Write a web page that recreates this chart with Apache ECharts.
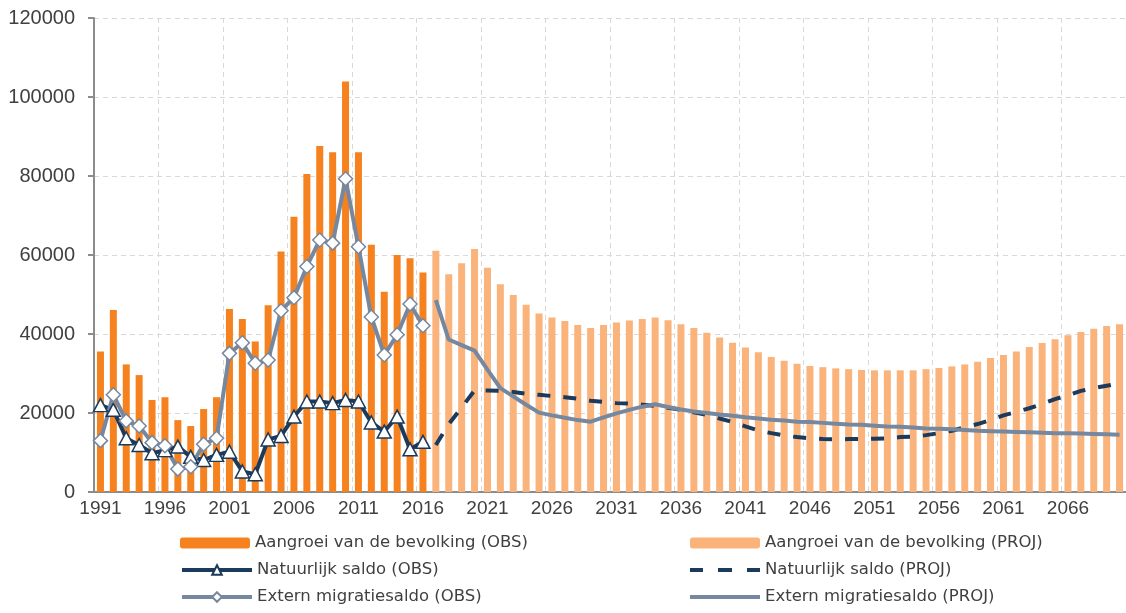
<!DOCTYPE html>
<html>
<head>
<meta charset="utf-8">
<script src="https://cdn.jsdelivr.net/npm/echarts@6/dist/echarts.min.js"></script>
<style>
html, body { margin: 0; padding: 0; background: #fff; }
#chart { width: 1126px; height: 613px; }
</style>
</head>
<body>
<div id="chart"></div>
<script>
var navy = '#1b3a5c';
var slate = '#76889f';
var orange = '#f5821f';
var peach = '#fab37a';
var axisGrey = '#8c8c8c';
var gridGrey = '#d9d9d9';
var textGrey = '#404040';

var names = [
	'Aangroei van de bevolking (OBS)',
	'Aangroei van de bevolking (PROJ)',
	'Natuurlijk saldo (OBS)',
	'Natuurlijk saldo (PROJ)',
	'Extern migratiesaldo (OBS)',
	'Extern migratiesaldo (PROJ)'
];

// 1991 - 2070
var years = [];
for (var y = 1991; y <= 2070; y++) years.push(String(y));

// observed 1991 - 2016
var growthObs = [35600, 46100, 32300, 29600, 23300, 24000, 18200, 16700, 21000, 24000,
	46300, 43800, 38100, 47300, 60900, 69700, 80500, 87600, 86000, 103900,
	86000, 62600, 50700, 60000, 59200, 55600];
var naturalObs = [22000, 20800, 13600, 11900, 9800, 10600, 11500, 8900, 8100, 9400,
	10200, 5200, 4500, 13300, 14200, 19100, 22900, 22900, 22500, 23300,
	22900, 17600, 15300, 19100, 10800, 12700];
var migrationObs = [13000, 24600, 18000, 16700, 12500, 11700, 5800, 6400, 12100, 13600,
	35100, 37800, 32600, 33400, 45900, 49200, 57100, 63800, 63000, 79300,
	62100, 44300, 34700, 39800, 47600, 42100];

// projected 2017 - 2070
var growthProj = [61100, 55100, 57900, 61500, 56800, 52600, 49900, 47400, 45200, 44200,
	43300, 42300, 41500, 42300, 42900, 43400, 43800, 44200, 43500, 42500,
	41500, 40300, 39100, 37800, 36600, 35400, 34200, 33200, 32500, 31900,
	31600, 31300, 31100, 30900, 30800, 30800, 30800, 30800, 31100, 31400,
	31800, 32300, 33000, 33900, 34700, 35600, 36700, 37700, 38700, 39700,
	40500, 41300, 42000, 42500];
var naturalProj = [11900, 17200, 21400, 25700, 25700, 25600, 25300, 24900, 24600, 24300,
	24000, 23600, 23100, 22800, 22500, 22400, 22100, 21800, 21300, 20800,
	20200, 19500, 18600, 17700, 16600, 15600, 14900, 14300, 13900, 13600,
	13400, 13300, 13400, 13400, 13500, 13600, 13900, 14000, 14400, 14900,
	15500, 16400, 17200, 18200, 19400, 20300, 21200, 22300, 23500, 24500,
	25600, 26300, 26900, 27500];
var migrationProj = [48600, 38600, 37200, 35800, 31000, 26300, 24200, 22100, 20100, 19400,
	18800, 18200, 17800, 18900, 19900, 20800, 21600, 22200, 21500, 20900,
	20400, 20000, 19600, 19300, 18900, 18600, 18300, 18100, 17800, 17700,
	17500, 17300, 17100, 17000, 16800, 16600, 16500, 16300, 16100, 16000,
	15900, 15700, 15500, 15400, 15300, 15200, 15100, 15000, 14900, 14900,
	14800, 14700, 14600, 14500];

function obs(arr) {
	return arr.concat(new Array(years.length - arr.length).fill(null));
}
function proj(arr) {
	return new Array(years.length - arr.length).fill(null).concat(arr);
}

// one legend per entry so the two columns line up like the original
function legendItem(name, left, top, extra) {
	var l = {
		left: left, top: top, padding: 0,
		itemWidth: 70, itemHeight: 11,
		selectedMode: false,
		lineStyle: { width: 4 },
		textStyle: { fontFamily: 'DejaVu Sans', fontSize: 16.5, color: textGrey, lineHeight: 18 },
		data: [name]
	};
	for (var k in extra) l[k] = extra[k];
	return l;
}

var dashIcon = 'path://M0,0h13v4h-13z M28,0h14v4h-14z M57,0h13v4h-13z';

var chart = echarts.init(document.getElementById('chart'));
chart.setOption({
	animation: false,
	grid: { left: 94, right: 0, top: 18, bottom: 121 },
	legend: [
		legendItem(names[0], 180, 534),
		legendItem(names[1], 690, 534),
		legendItem(names[2], 180, 561, { itemHeight: 12 }),
		legendItem(names[3], 690, 561, {
			data: [{ name: names[3], icon: dashIcon, itemStyle: { color: navy } }],
			itemHeight: 4
		}),
		legendItem(names[4], 180, 588, { itemHeight: 12 }),
		legendItem(names[5], 690, 588, {
			data: [{ name: names[5], icon: 'rect', itemStyle: { color: slate } }],
			itemHeight: 4
		})
	],
	xAxis: {
		type: 'category',
		data: years,
		boundaryGap: true,
		axisLine: { lineStyle: { color: axisGrey, width: 2 } },
		axisTick: { interval: 4, length: 6, lineStyle: { color: axisGrey, width: 2 } },
		axisLabel: { interval: 4, margin: 7, fontSize: 19, color: textGrey, fontFamily: 'Liberation Sans' },
		splitLine: { show: true, interval: 4, lineStyle: { color: gridGrey, width: 1, type: [5, 4] } }
	},
	yAxis: {
		type: 'value',
		min: 0,
		max: 120000,
		interval: 20000,
		axisLine: { show: true, lineStyle: { color: axisGrey, width: 2 } },
		axisTick: { show: true, length: 6, lineStyle: { color: axisGrey, width: 2 } },
		axisLabel: {
			margin: 19, fontSize: 20, color: textGrey, fontFamily: 'Liberation Sans',
			formatter: function(v) { return String(v); }
		},
		splitLine: { lineStyle: { color: gridGrey, width: 1, type: [5, 4] } }
	},
	series: [
		{
			name: names[0], type: 'bar', data: obs(growthObs),
			barWidth: 7, barGap: '-100%',
			itemStyle: { color: orange }
		},
		{
			name: names[1], type: 'bar', data: proj(growthProj),
			barWidth: 7, barGap: '-100%',
			itemStyle: { color: peach }
		},
		{
			name: names[2], type: 'line', data: obs(naturalObs),
			symbol: 'triangle', symbolSize: [14, 13], showAllSymbol: true,
			lineStyle: { color: navy, width: 4 },
			itemStyle: { color: '#fff', borderColor: navy, borderWidth: 1.5 }
		},
		{
			name: names[3], type: 'line', data: proj(naturalProj),
			symbol: 'none',
			lineStyle: { color: navy, width: 4, type: [13, 13] },
			itemStyle: { color: navy }
		},
		{
			name: names[4], type: 'line', data: obs(migrationObs),
			symbol: 'diamond', symbolSize: 14, showAllSymbol: true,
			lineStyle: { color: slate, width: 4 },
			itemStyle: { color: '#fff', borderColor: slate, borderWidth: 1.5 }
		},
		{
			name: names[5], type: 'line', data: proj(migrationProj),
			symbol: 'none',
			lineStyle: { color: slate, width: 4 },
			itemStyle: { color: slate }
		}
	]
});
</script>
</body>
</html>
